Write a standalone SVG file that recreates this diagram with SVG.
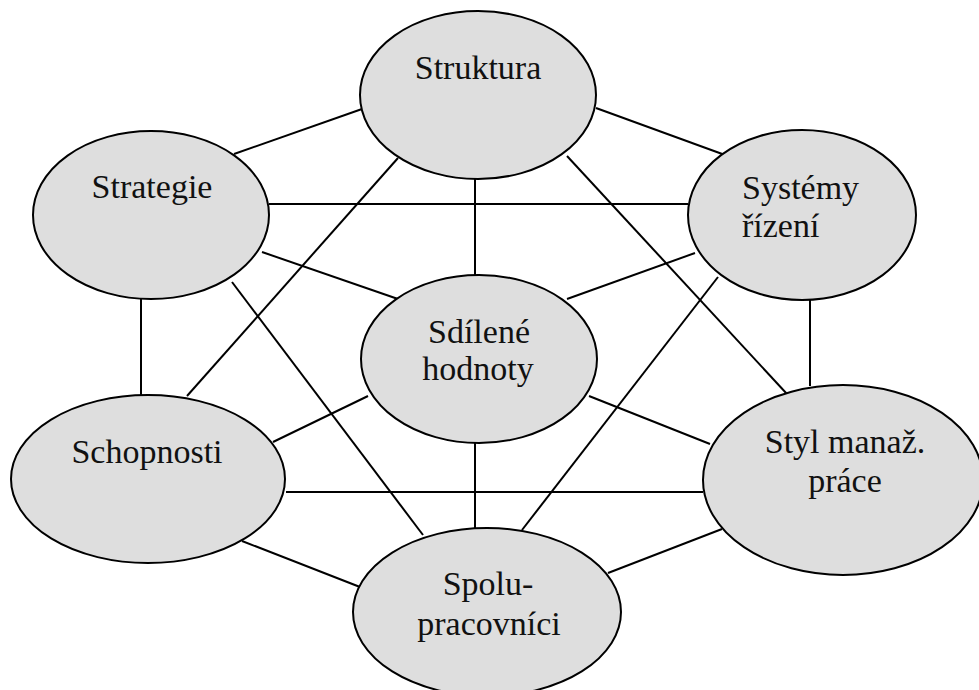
<svg xmlns="http://www.w3.org/2000/svg" width="979" height="690" viewBox="0 0 979 690">
  <style>
    .link { stroke: #000; stroke-width: 2; fill: none; }
    .node ellipse { fill: #dedede; stroke: #000; stroke-width: 2; }
    .node text { font-family: "Liberation Serif", "DejaVu Serif", serif; font-size: 34px; fill: #111; }
    .c { text-anchor: middle; }
  </style>
  <rect width="979" height="690" fill="#fff"/>

  <!-- connectors between the seven elements -->
  <g id="connectors">
    <line class="link" x1="234" y1="154" x2="362" y2="109"/>
    <line class="link" x1="596" y1="108" x2="725" y2="155"/>
    <line class="link" x1="269" y1="204" x2="688" y2="204"/>
    <line class="link" x1="475" y1="179" x2="475" y2="276"/>
    <line class="link" x1="262" y1="252" x2="398" y2="299"/>
    <line class="link" x1="398" y1="158" x2="187" y2="396"/>
    <line class="link" x1="695" y1="253" x2="567" y2="299"/>
    <line class="link" x1="567" y1="156" x2="787" y2="394"/>
    <line class="link" x1="810" y1="300" x2="810" y2="386"/>
    <line class="link" x1="232" y1="282" x2="423" y2="535"/>
    <line class="link" x1="718" y1="277" x2="522" y2="530"/>
    <line class="link" x1="273" y1="442" x2="368" y2="396"/>
    <line class="link" x1="589" y1="396" x2="710" y2="444"/>
    <line class="link" x1="286" y1="492" x2="703" y2="492"/>
    <line class="link" x1="475" y1="443" x2="475" y2="528"/>
    <line class="link" x1="242" y1="541" x2="360" y2="587"/>
    <line class="link" x1="722" y1="529" x2="608" y2="573"/>
    <line class="link" x1="141" y1="299" x2="141" y2="396"/>
  </g>

  <g id="struktura" class="node">
    <ellipse cx="478" cy="95" rx="118" ry="84"/>
    <text class="c" x="478" y="79">Struktura</text>
  </g>

  <g id="strategie" class="node">
    <ellipse cx="151" cy="215" rx="118" ry="84"/>
    <text class="c" x="152" y="198">Strategie</text>
  </g>

  <g id="systemy-rizeni" class="node">
    <ellipse cx="802" cy="215" rx="114" ry="85"/>
    <text x="742" y="199">Systémy</text>
    <text x="742" y="237">řízení</text>
  </g>

  <g id="sdilene-hodnoty" class="node">
    <ellipse cx="479" cy="359" rx="118" ry="84"/>
    <text class="c" x="479" y="343">Sdílené</text>
    <text class="c" x="478" y="380">hodnoty</text>
  </g>

  <g id="schopnosti" class="node">
    <ellipse cx="148" cy="479" rx="137" ry="84"/>
    <text class="c" x="147" y="463">Schopnosti</text>
  </g>

  <g id="styl-manaz-prace" class="node">
    <ellipse cx="843" cy="480" rx="140" ry="95"/>
    <text class="c" x="845" y="453">Styl manaž.</text>
    <text class="c" x="845" y="492">práce</text>
  </g>

  <g id="spolupracovnici" class="node">
    <ellipse cx="487" cy="612" rx="134" ry="84"/>
    <text class="c" x="488" y="595">Spolu-</text>
    <text class="c" x="489" y="635">pracovníci</text>
  </g>
</svg>
